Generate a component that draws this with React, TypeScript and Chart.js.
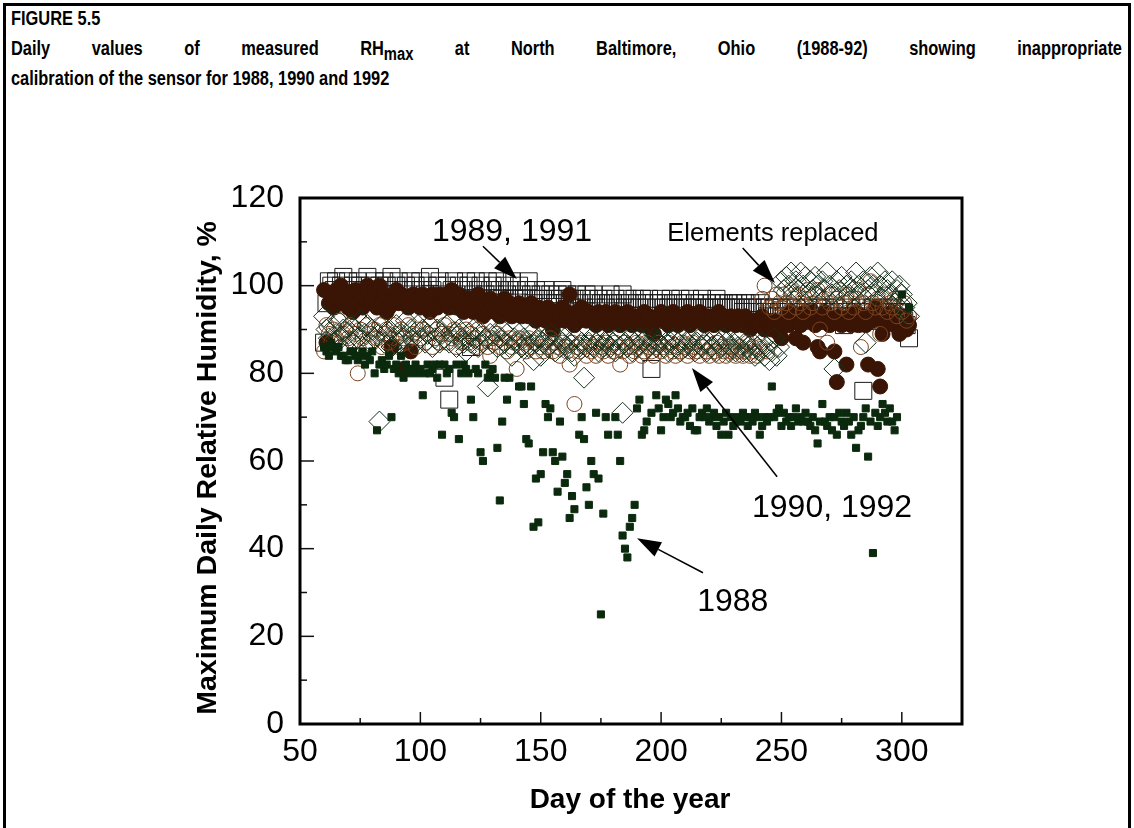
import React, { useEffect, useRef } from 'react';
import { Chart, registerables } from 'chart.js';

Chart.register(...registerables);

// ---------- axis definitions ----------
const X_MIN = 50;
const X_MAX = 325;
const Y_MIN = 0;
const Y_MAX = 120;
const X_TICKS = [50, 100, 150, 200, 250, 300];
const X_MINOR = [75, 125, 175, 225, 275];
const Y_TICKS = [0, 20, 40, 60, 80, 100, 120];
const Y_MINOR = [10, 30, 50, 70, 90, 110];

// ---------- data ----------
const DAYS = [
  60, 61, 62, 63, 64, 65, 66, 67, 68, 69,
  70, 71, 72, 73, 74, 75, 76, 77, 78, 79,
  80, 81, 82, 83, 84, 85, 86, 87, 88, 89,
  90, 91, 92, 93, 94, 95, 96, 97, 98, 99,
  100, 101, 102, 103, 104, 105, 106, 107, 108, 109,
  110, 111, 112, 113, 114, 115, 116, 117, 118, 119,
  120, 121, 122, 123, 124, 125, 126, 127, 128, 129,
  130, 131, 132, 133, 134, 135, 136, 137, 138, 139,
  140, 141, 142, 143, 144, 145, 146, 147, 148, 149,
  150, 151, 152, 153, 154, 155, 156, 157, 158, 159,
  160, 161, 162, 163, 164, 165, 166, 167, 168, 169,
  170, 171, 172, 173, 174, 175, 176, 177, 178, 179,
  180, 181, 182, 183, 184, 185, 186, 187, 188, 189,
  190, 191, 192, 193, 194, 195, 196, 197, 198, 199,
  200, 201, 202, 203, 204, 205, 206, 207, 208, 209,
  210, 211, 212, 213, 214, 215, 216, 217, 218, 219,
  220, 221, 222, 223, 224, 225, 226, 227, 228, 229,
  230, 231, 232, 233, 234, 235, 236, 237, 238, 239,
  240, 241, 242, 243, 244, 245, 246, 247, 248, 249,
  250, 251, 252, 253, 254, 255, 256, 257, 258, 259,
  260, 261, 262, 263, 264, 265, 266, 267, 268, 269,
  270, 271, 272, 273, 274, 275, 276, 277, 278, 279,
  280, 281, 282, 283, 284, 285, 286, 287, 288, 289,
  290, 291, 292, 293, 294, 295, 296, 297, 298, 299,
  300, 301, 302, 303,
];

const RH_1989 = [
  87, 96, 101, 100, 99, 101, 98, 100, 102, 97,
  101, 99, 100, 98, 101, 100, 97, 99, 102, 100,
  98, 101, 99, 100, 96, 101, 100, 99, 102, 98,
  100, 101, 97, 99, 100, 98, 101, 99, 100, 97,
  101, 99, 98, 100, 102, 99, 97, 100, 101, 98,
  79, 100, 74, 99, 101, 98, 100, 97, 99, 101,
  100, 86, 98, 101, 99, 100, 97, 98, 101, 99,
  100, 98, 101, 99, 97, 100, 98, 99, 101, 97,
  99, 100, 98, 97, 99, 101, 98, 96, 99, 97,
  98, 97, 99, 96, 98, 97, 96, 98, 97, 99,
  96, 98, 97, 95, 97, 98, 96, 97, 95, 98,
  97, 96, 98, 95, 97, 96, 97, 95, 96, 98,
  96, 97, 95, 96, 98, 95, 97, 96, 95, 97,
  96, 95, 97, 96, 95, 97, 81, 96, 95, 96,
  97, 95, 96, 95, 97, 96, 95, 96, 97, 95,
  96, 95, 97, 95, 96, 95, 96, 97, 95, 96,
  95, 96, 95, 97, 96, 95, 96, 95, 96, 95,
  96, 95, 96, 95, 94, 96, 95, 96, 95, 94,
  95, 96, 94, 95, 93, 95, 94, 95, 93, 94,
  95, 93, 94, 95, 93, 94, 95, 92, 94, 93,
  94, 95, 93, 94, 92, 95, 93, 94, 95, 92,
  94, 93, 95, 92, 94, 93, 91, 94, 93, 95,
  93, 94, 92, 95, 76, 93, 94, 92, 95, 93,
  94, 92, 95, 93, 94, 92, 95, 93, 94, 92,
  94, 92, 91, 88,
];

const RH_1990 = [
  93, 90, 88, 91, 87, 89, 92, 88, 90, 86,
  89, 91, 87, 90, 88, 92, 86, 89, 91, 87,
  90, 88, 89, 69, 91, 87, 89, 90, 86, 88,
  91, 87, 89, 88, 92, 86, 90, 88, 87, 91,
  88, 90, 87, 89, 91, 86, 88, 90, 87, 89,
  88, 91, 87, 92, 89, 86, 90, 88, 87, 85,
  89, 87, 90, 88, 86, 89, 87, 88, 77, 89,
  87, 89, 86, 88, 90, 87, 89, 86, 84, 88,
  87, 89, 86, 88, 87, 86, 89, 83, 87, 88,
  84, 87, 88, 86, 89, 87, 85, 88, 86, 87,
  88, 86, 87, 85, 84, 88, 86, 87, 79, 86,
  87, 88, 86, 87, 85, 88, 86, 87, 88, 86,
  87, 85, 88, 86, 71, 87, 86, 88, 85, 87,
  86, 88, 87, 85, 88, 86, 87, 88, 86, 87,
  88, 86, 87, 85, 87, 88, 86, 87, 85, 88,
  86, 87, 88, 86, 85, 87, 88, 86, 87, 85,
  87, 86, 88, 85, 87, 86, 88, 87, 85, 86,
  87, 85, 86, 88, 85, 87, 86, 85, 87, 84,
  86, 85, 87, 84, 86, 83, 85, 88, 84, 86,
  101, 99, 102, 100, 103, 98, 101, 99, 103, 100,
  102, 98, 101, 99, 102, 100, 97, 101, 99, 103,
  100, 98, 81, 101, 99, 102, 97, 100, 98, 101,
  99, 103, 100, 98, 101, 87, 99, 102, 100, 98,
  103, 100, 97, 101, 99, 98, 101, 96, 99, 100,
  98, 95, 96, 93,
];

const RH_1991 = [
  99, 87, 96, 98, 95, 99, 97, 100, 96, 98,
  95, 97, 94, 99, 96, 98, 95, 97, 100, 96,
  97, 99, 95, 100, 96, 98, 94, 95, 86, 97,
  99, 96, 98, 81, 97, 95, 85, 98, 96, 97,
  95, 98, 96, 97, 94, 98, 96, 95, 98, 97,
  96, 98, 95, 99, 97, 95, 98, 96, 94, 97,
  95, 97, 94, 96, 98, 95, 93, 96, 94, 97,
  95, 94, 96, 93, 95, 97, 94, 96, 93, 95,
  94, 96, 93, 95, 94, 93, 96, 94, 92, 95,
  93, 94, 92, 95, 93, 90, 94, 92, 93, 95,
  92, 94, 98, 93, 91, 94, 92, 95, 93, 92,
  94, 92, 93, 91, 94, 93, 92, 94, 91, 93,
  92, 94, 93, 91, 93, 92, 94, 92, 91, 93,
  92, 93, 91, 94, 92, 93, 90, 89, 92, 93,
  94, 92, 93, 91, 92, 94, 93, 91, 92, 93,
  92, 94, 91, 93, 92, 93, 94, 92, 91, 93,
  92, 93, 91, 92, 94, 92, 93, 91, 92, 93,
  92, 91, 93, 92, 91, 93, 92, 90, 92, 91,
  92, 91, 93, 90, 92, 91, 90, 92, 91, 89,
  88, 92, 93, 91, 94, 92, 88, 93, 91, 87,
  94, 93, 92, 94, 91, 86, 85, 92, 94, 93,
  91, 92, 85, 78, 93, 91, 92, 82, 93, 91,
  92, 94, 91, 92, 93, 91, 82, 93, 92, 95,
  81, 77, 89, 91, 93, 92, 94, 91, 93, 89,
  92, 93, 90, 91,
];

const RH_1992 = [
  85, 91, 89, 87, 90, 88, 92, 86, 89, 90,
  88, 91, 87, 89, 80, 90, 88, 86, 91, 89,
  87, 90, 88, 91, 86, 89, 90, 87, 88, 91,
  89, 86, 90, 88, 87, 91, 88, 89, 86, 90,
  88, 90, 87, 89, 91, 86, 88, 90, 87, 89,
  91, 87, 89, 88, 90, 86, 89, 87, 88, 90,
  87, 89, 88, 86, 90, 87, 89, 88, 86, 84,
  88, 87, 89, 86, 88, 87, 85, 88, 86, 87,
  81, 88, 86, 87, 85, 88, 86, 87, 85, 88,
  86, 85, 87, 86, 88, 85, 87, 86, 84, 87,
  86, 85, 82, 87, 73, 86, 85, 87, 86, 84,
  87, 85, 86, 84, 87, 86, 85, 87, 84, 86,
  85, 87, 86, 82, 85, 87, 86, 84, 86, 85,
  87, 86, 84, 85, 87, 86, 85, 84, 86, 87,
  85, 86, 84, 87, 86, 85, 84, 86, 85, 87,
  86, 84, 85, 87, 86, 85, 84, 86, 87, 85,
  84, 86, 85, 87, 84, 86, 85, 84, 86, 85,
  86, 84, 85, 86, 84, 85, 87, 84, 86, 85,
  84, 86, 97, 100, 85, 95, 97, 94, 98, 96,
  95, 98, 96, 94, 99, 97, 95, 98, 96, 94,
  97, 99, 95, 96, 98, 99, 90, 95, 97, 87,
  96, 98, 94, 97, 99, 95, 96, 98, 94, 97,
  95, 97, 99, 86, 96, 94, 98, 101, 96, 95,
  97, 89, 95, 98, 94, 96, 95, 97, 93, 95,
  94, 96, 92, 93,
];

const DAYS_1988 = [
  60, 61, 62, 63, 64, 65, 66, 67, 68, 69, 70, 71, 72, 73, 74, 75, 76, 77, 78, 79,
  80, 81, 82, 83, 84, 85, 86, 87, 88, 89, 90, 91, 92, 93, 94, 95, 96, 97, 98, 99,
  100, 101, 102, 103, 104, 105, 106, 107, 108, 109, 110, 111, 112, 113, 114, 115, 116, 117, 118, 119,
  120, 121, 122, 123, 124, 125, 126, 127, 128, 129, 130, 131, 132, 133, 134, 135, 136, 137,
  141, 142, 143, 144, 145, 146, 147, 148, 149, 150, 151, 152, 153, 154, 155, 156, 157, 158, 159,
  160, 161, 162, 163, 164, 166, 167, 168, 169, 170, 171, 172, 173, 174, 175, 176, 177, 178,
  181, 182, 183, 184, 185, 186, 187, 188, 189, 190, 191, 192, 193, 194, 196, 198, 199,
  200, 201, 202, 203, 204, 205, 206, 207, 208, 209, 210, 211, 212, 213, 214, 215, 216, 217, 218, 219,
  220, 221, 222, 223, 224, 225, 226, 227, 228, 229, 230, 231, 232, 233, 234, 235, 236, 237, 238, 239,
  240, 241, 242, 243, 244, 245, 246, 247, 248, 249, 250, 251, 252, 253, 254, 255, 256, 257, 258, 259,
  260, 261, 262, 263, 264, 265, 266, 267, 268, 269, 270, 271, 272, 273, 274, 275, 276, 277, 278, 279,
  280, 281, 282, 283, 284, 285, 286, 287, 288, 289, 290, 291, 292, 293, 294, 295, 296, 297, 298,
  300, 303,
];

const RH_1988 = [
  86, 85, 84, 87, 86, 85, 86, 84, 84, 83, 83, 85, 85, 84, 83, 84, 85, 82, 84, 83,
  85, 80, 67, 82, 83, 81, 82, 84, 70, 81, 82, 80, 84, 79, 82, 81, 80, 81, 82, 80,
  81, 75, 80, 82, 80, 81, 82, 79, 82, 66, 82, 80, 81, 71, 70, 82, 65, 80, 82, 81,
  80, 74, 70, 81, 80, 62, 60, 82, 79, 80, 81, 79, 63, 51, 69, 79, 74, 79,
  77, 77, 73, 65, 64, 77, 45, 56, 46, 57, 62, 73, 70, 72, 62, 60, 53, 69, 61,
  55, 57, 47, 52, 49, 66, 70, 65, 54, 50, 60, 57, 71, 56, 25, 48, 70, 66,
  70, 66, 60, 43, 40, 38, 45, 47, 50, 72, 74, 66, 67, 69, 71, 75, 72,
  67, 70, 74, 73, 70, 71, 75, 72, 69, 70, 70, 71, 68, 72, 67, 67, 70, 71, 70, 72,
  69, 70, 71, 68, 70, 66, 69, 71, 66, 70, 68, 69, 70, 69, 71, 70, 68, 70, 69, 71,
  70, 66, 68, 70, 69, 70, 77, 70, 71, 72, 68, 71, 69, 70, 68, 70, 72, 69, 70, 69,
  71, 69, 68, 70, 67, 64, 69, 73, 69, 68, 70, 67, 70, 66, 71, 69, 68, 71, 69, 66,
  70, 63, 67, 68, 70, 72, 61, 69, 39, 71, 68, 70, 73, 71, 69, 72, 69, 67, 70,
  98, 95,
];

// ---------- annotations (data coordinates) ----------
const LABELS = [
  { text: '1989, 1991', x: 104.8, y: 110.1, size: 32, align: 'left' },
  { text: 'Elements replaced', x: 202.6, y: 110.1, size: 25.5, align: 'left' },
  { text: '1990, 1992', x: 304.3, y: 47.2, size: 32, align: 'right' },
  { text: '1988', x: 215.0, y: 25.8, size: 32, align: 'left' },
];
const ARROWS = [
  { from: [126.0, 109.0], to: [140.1, 101.5] },
  { from: [233.9, 108.6], to: [247.3, 100.6] },
  { from: [248.2, 56.4], to: [212.8, 81.2] },
  { from: [217.4, 34.5], to: [190.0, 42.4] },
];

const FONT = "'Liberation Sans', Arial, Helvetica, sans-serif";

const PLOT_LEFT = 300;
const PLOT_RIGHT = 962;
const PLOT_TOP = 198;
const PLOT_BOTTOM = 724;
const W = 1134;
const H = 828;
const Y_AXIS_W = 90;
const X_AXIS_H = 60;
const CAPTION_SCALE = 0.82;
const CAPTION_SIZE = 20;

function pts(xs: number[], ys: (number | null)[]) {
  return xs.map((x, i) => ({ x, y: ys[i] }));
}

const decorPlugin = {
  id: 'decor',
  afterDraw(chart: any) {
    const ctx = chart.ctx as CanvasRenderingContext2D;
    const xs = chart.scales.x;
    const ys = chart.scales.y;
    const a = chart.chartArea;
    ctx.save();
    // tick marks (inside)
    ctx.strokeStyle = '#111';
    ctx.lineWidth = 1.5;
    const tick = (x1: number, y1: number, x2: number, y2: number) => {
      ctx.beginPath();
      ctx.moveTo(x1, y1);
      ctx.lineTo(x2, y2);
      ctx.stroke();
    };
    X_TICKS.forEach((v) => { const p = xs.getPixelForValue(v); tick(p, a.bottom, p, a.bottom - 12); });
    X_MINOR.forEach((v) => { const p = xs.getPixelForValue(v); tick(p, a.bottom, p, a.bottom - 6); });
    Y_TICKS.forEach((v) => { const p = ys.getPixelForValue(v); tick(a.left, p, a.left + 14, p); });
    Y_MINOR.forEach((v) => { const p = ys.getPixelForValue(v); tick(a.left, p, a.left + 7, p); });
    // frame
    ctx.strokeStyle = '#000';
    ctx.lineWidth = 3;
    ctx.strokeRect(a.left, a.top, a.right - a.left, a.bottom - a.top);

    // arrows
    ctx.fillStyle = '#000';
    ctx.strokeStyle = '#000';
    ARROWS.forEach((ar) => {
      const x1 = xs.getPixelForValue(ar.from[0]);
      const y1 = ys.getPixelForValue(ar.from[1]);
      const x2 = xs.getPixelForValue(ar.to[0]);
      const y2 = ys.getPixelForValue(ar.to[1]);
      const ang = Math.atan2(y2 - y1, x2 - x1);
      const hl = 24;
      const hw = 8;
      const bx = x2 - hl * Math.cos(ang);
      const by = y2 - hl * Math.sin(ang);
      ctx.lineWidth = 1.5;
      ctx.beginPath();
      ctx.moveTo(x1, y1);
      ctx.lineTo(bx, by);
      ctx.stroke();
      ctx.beginPath();
      ctx.moveTo(x2, y2);
      ctx.lineTo(bx + hw * Math.sin(ang), by - hw * Math.cos(ang));
      ctx.lineTo(bx - hw * Math.sin(ang), by + hw * Math.cos(ang));
      ctx.closePath();
      ctx.fill();
    });

    // labels
    ctx.textBaseline = 'alphabetic';
    LABELS.forEach((l) => {
      ctx.font = `${l.size}px ${FONT}`;
      ctx.textAlign = l.align as CanvasTextAlign;
      ctx.fillText(l.text, xs.getPixelForValue(l.x), ys.getPixelForValue(l.y));
    });

    // axis titles
    ctx.textAlign = 'center';
    ctx.font = `bold 28px ${FONT}`;
    ctx.fillText('Day of the year', 630, 808);
    ctx.save();
    ctx.font = `bold 28.5px ${FONT}`;
    ctx.translate(216, 468);
    ctx.rotate(-Math.PI / 2);
    ctx.fillText('Maximum Daily Relative Humidity, %', 0, 0);
    ctx.restore();
    ctx.restore();
  },
};

export default function App() {
  const ref = useRef<HTMLCanvasElement | null>(null);

  useEffect(() => {
    document.body.style.margin = '0';
    const canvas = ref.current;
    if (!canvas) return;
    const tickFont = { family: FONT, size: 32, weight: 'normal' as const };
    const chart = new Chart(canvas, {
      type: 'scatter',
      data: {
        datasets: [
          {
            label: '1988',
            data: pts(DAYS_1988, RH_1988),
            pointStyle: 'rect',
            pointRadius: 5,
            backgroundColor: '#0b2a0d',
            borderColor: '#0b2a0d',
            borderWidth: 1,
            order: 0,
          },
          {
            label: '1990',
            data: pts(DAYS, RH_1990),
            pointStyle: 'rectRot',
            pointRadius: 10.5,
            backgroundColor: 'rgba(0,0,0,0)',
            borderColor: '#15301a',
            borderWidth: 1,
            order: 1,
          },
          {
            label: '1992',
            data: pts(DAYS, RH_1992),
            pointStyle: 'circle',
            pointRadius: 7.5,
            backgroundColor: 'rgba(0,0,0,0)',
            borderColor: '#7a4420',
            borderWidth: 1,
            order: 2,
          },
          {
            label: '1991',
            data: pts(DAYS, RH_1991),
            pointStyle: 'circle',
            pointRadius: 7.5,
            backgroundColor: '#3a1404',
            borderColor: '#3a1404',
            borderWidth: 1,
            order: 3,
          },
          {
            label: '1989',
            data: pts(DAYS, RH_1989),
            pointStyle: 'rect',
            pointRadius: 12,
            backgroundColor: 'rgba(0,0,0,0)',
            borderColor: '#1a1a1a',
            borderWidth: 1,
            order: 4,
          },
        ],
      },
      options: {
        responsive: false,
        maintainAspectRatio: false,
        animation: false,
        events: [],
        layout: {
          padding: {
            left: PLOT_LEFT - Y_AXIS_W,
            right: W - PLOT_RIGHT,
            top: PLOT_TOP,
            bottom: H - PLOT_BOTTOM - X_AXIS_H,
          },
        },
        plugins: { legend: { display: false }, tooltip: { enabled: false }, title: { display: false } },
        scales: {
          x: {
            type: 'linear',
            min: X_MIN,
            max: X_MAX,
            afterBuildTicks: (s: any) => { s.ticks = X_TICKS.map((v) => ({ value: v })); },
            afterFit: (s: any) => { s.height = X_AXIS_H; },
            grid: { display: false, drawTicks: false },
            border: { display: false },
            ticks: { font: tickFont, color: '#000', padding: 9, maxRotation: 0, autoSkip: false },
          },
          y: {
            type: 'linear',
            min: Y_MIN,
            max: Y_MAX,
            afterBuildTicks: (s: any) => { s.ticks = Y_TICKS.map((v) => ({ value: v })); },
            afterFit: (s: any) => { s.width = Y_AXIS_W; },
            grid: { display: false, drawTicks: false },
            border: { display: false },
            ticks: { font: tickFont, color: '#000', padding: 16, autoSkip: false },
          },
        },
      },
      plugins: [decorPlugin],
    });
    return () => chart.destroy();
  }, []);

  const cap: React.CSSProperties = {
    position: 'absolute',
    left: 11,
    fontFamily: FONT,
    fontWeight: 'bold',
    fontSize: CAPTION_SIZE,
    color: '#000',
    whiteSpace: 'nowrap',
    lineHeight: '22px',
    transform: `scaleX(${CAPTION_SCALE})`,
    transformOrigin: '0 0',
  };

  return (
    <div style={{ position: 'absolute', left: 0, top: 0, width: W, height: H, background: '#fff', overflow: 'hidden' }}>
      <div
        style={{
          position: 'absolute',
          left: 3,
          top: 3,
          width: 1128,
          height: 900,
          borderTop: '3px solid #000',
          borderLeft: '3px solid #000',
          borderRight: '3px solid #000',
          boxSizing: 'border-box',
        }}
      />
      <div style={{ ...cap, top: 7 }}>FIGURE 5.5</div>
      <div
        style={{
          ...cap,
          top: 37,
          width: 1111 / CAPTION_SCALE,
          textAlign: 'justify',
          textAlignLast: 'justify',
          whiteSpace: 'normal',
        }}
      >
        Daily values of measured RH
        <span style={{ fontSize: 18, position: 'relative', top: 5 }}>max</span> at North Baltimore, Ohio (1988-92) showing inappropriate
      </div>
      <div style={{ ...cap, top: 67 }}>calibration of the sensor for 1988, 1990 and 1992</div>
      <canvas ref={ref} width={W} height={H} style={{ position: 'absolute', left: 0, top: 0, width: W, height: H }} />
    </div>
  );
}
